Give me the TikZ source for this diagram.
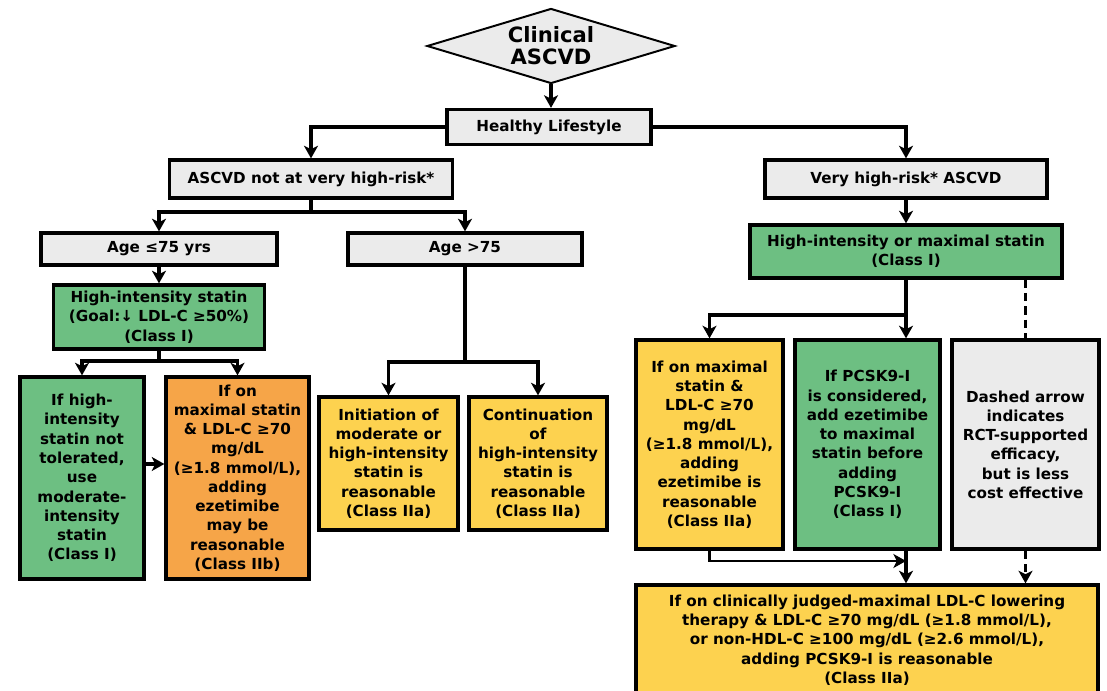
\documentclass[tikz,border=0pt]{standalone}
\usepackage{fontspec}
\setmainfont{DejaVu Sans}
\usepackage{tikz}
\usetikzlibrary{shapes.geometric, arrows.meta, positioning, calc}
\definecolor{boxGray}{HTML}{EBEBEB}
\definecolor{boxGreen}{HTML}{6DBF82}
\definecolor{boxYellow}{HTML}{FDD24F}
\definecolor{boxOrange}{HTML}{F6A548}

\begin{document}
\begin{tikzpicture}[
    x=0.025cm, y=-0.025cm,
    box/.style={draw, line width=2.3pt, align=center, inner sep=2pt, font=\bfseries\fontsize{10.8}{13.7}\selectfont},
    greyBox/.style={box, fill=boxGray},
    greenBox/.style={box, fill=boxGreen},
    yellowBox/.style={box, fill=boxYellow},
    orangeBox/.style={box, fill=boxOrange},
    arrow/.style={-{Stealth[length=9pt, width=10pt, inset=2.5pt]}, line width=2.3pt},
    thinArrow/.style={-{Stealth[length=9pt, width=10pt, inset=2.5pt]}, line width=1.5pt},
    dashLine/.style={line width=2.3pt, dash pattern=on 6pt off 3.5pt},
]
    \useasboundingbox (0,0) rectangle (1107,691);
    \fill[white] (0,0) rectangle (1107,691);

    \node[diamond, draw, line width=1.4pt, fill=boxGray, aspect=3.3, inner sep=0pt,
        minimum width=6.2cm, minimum height=1.875cm,
        align=center, font=\bfseries\fontsize{15}{15.6}\selectfont] (clinical) at (551,46) {Clinical\\ASCVD};
    \node[greyBox, minimum width=5.1cm, minimum height=0.875cm] (healthy) at (549,127) {Healthy Lifestyle};
    \node[greyBox, minimum width=7.075cm, minimum height=0.95cm] (ascvdLow) at (311,179) {ASCVD not at very high-risk*};
    \node[greyBox, minimum width=7.05cm, minimum height=0.95cm] (ascvdHigh) at (906,179) {Very high-risk* ASCVD};

    \node[greyBox, minimum width=5.9cm, minimum height=0.8cm] (ageLow) at (159,249) {Age ≤75 yrs};
    \node[greyBox, minimum width=5.85cm, minimum height=0.8cm] (ageHigh) at (465,249) {Age >75};
    \node[greenBox, minimum width=5.275cm, minimum height=1.6cm] (hiStatin) at (159,317)
        {High-intensity statin\\(Goal:↓ LDL-C ≥50\%)\\(Class I)};
    \node[greenBox, minimum width=7.8cm, minimum height=1.325cm] (maxStatin) at (906,251.5)
        {High-intensity or maximal statin\\(Class I)};

    \node[greenBox, minimum width=3.1cm, minimum height=5.05cm] (notTol) at (82,478)
        {If high-\\intensity\\statin not\\tolerated,\\use\\moderate-\\intensity\\statin\\(Class I)};
    \node[orangeBox, minimum width=3.575cm, minimum height=5.05cm] (ezeLow) at (237.5,478)
        {If on\\maximal statin\\\& LDL-C ≥70\\mg/dL\\(≥1.8 mmol/L),\\adding\\ezetimibe\\may be\\reasonable\\(Class IIb)};
    \node[yellowBox, minimum width=3.475cm, minimum height=3.325cm] (initMod) at (388.5,463.5)
        {Initiation of\\moderate or\\high-intensity\\statin is\\reasonable\\(Class IIa)};
    \node[yellowBox, minimum width=3.45cm, minimum height=3.325cm] (contHigh) at (538,463.5)
        {Continuation\\of\\high-intensity\\statin is\\reasonable\\(Class IIa)};

    \node[yellowBox, minimum width=3.675cm, minimum height=5.225cm] (ezeHigh) at (709.5,444.5)
        {If on maximal\\statin \&\\LDL-C ≥70\\mg/dL\\(≥1.8 mmol/L),\\adding\\ezetimibe is\\reasonable\\(Class IIa)};
    \node[greenBox, minimum width=3.625cm, minimum height=5.225cm] (pcsk) at (867.5,444.5)
        {If PCSK9-I\\is considered,\\add ezetimibe\\to maximal\\statin before\\adding\\PCSK9-I\\(Class I)};
    \node[greyBox, minimum width=3.675cm, minimum height=5.225cm] (dashNote) at (1025.5,444.5)
        {Dashed arrow\\indicates\\RCT-supported\\efficacy,\\but is less\\cost effective};
    \node[yellowBox, minimum width=11.55cm, minimum height=2.75cm] (addPcsk) at (867,640)
        {If on clinically judged-maximal LDL-C lowering\\therapy \& LDL-C ≥70 mg/dL (≥1.8 mmol/L),\\or non-HDL-C ≥100 mg/dL (≥2.6 mmol/L),\\adding PCSK9-I is reasonable\\(Class IIa)};

    \coordinate (lowSplit) at (311,212);
    \coordinate (statinSplit) at (159,361);
    \coordinate (oldSplit) at (465,362);
    \coordinate (maxSplit) at (906,315);
    \coordinate (ezeJoin) at (906,561);

    \draw[arrow] (clinical.south) -- (clinical.south |- healthy.north);
    \draw[arrow] (healthy.west) -| (ascvdLow.north);
    \draw[arrow] (healthy.east) -| (ascvdHigh.north);
    \draw[arrow] (ascvdLow.south) -- (lowSplit) -| (ageLow.north);
    \draw[arrow] (lowSplit) -| (ageHigh.north);
    \draw[arrow] (ageLow.south) -- (hiStatin.north);
    \draw[arrow] (hiStatin.south) -- (statinSplit) -| (notTol.north);
    \draw[arrow] (statinSplit) -| (ezeLow.north);
    \draw[arrow] ([yshift=0.35cm]notTol.east) -- ([yshift=0.35cm]ezeLow.west);
    \draw[arrow] (ageHigh.south) -- (oldSplit) -| (initMod.north);
    \draw[arrow] (oldSplit) -| (contHigh.north);

    \draw[arrow] (ascvdHigh.south) -- (maxStatin.north);
    \draw[arrow] (maxStatin.south) -- (maxStatin.south |- pcsk.north);
    \draw[arrow] (maxSplit) -| (ezeHigh.north);
    \draw[dashLine] (dashNote.north |- maxStatin.south) -- (dashNote.north);
    \draw[thinArrow] (ezeHigh.south) |- (ezeJoin);
    \draw[arrow] (maxStatin.south |- pcsk.south) -- (maxStatin.south |- addPcsk.north);
    \draw[arrow, dashLine] (dashNote.south) -- (dashNote.south |- addPcsk.north);
\end{tikzpicture}
\end{document}
